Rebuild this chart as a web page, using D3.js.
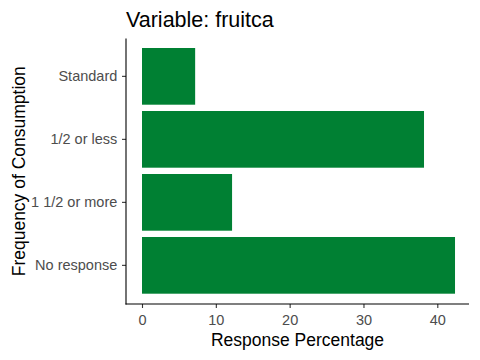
<!DOCTYPE html>
<html><head><meta charset="utf-8">
<script src="https://cdn.jsdelivr.net/npm/d3@7"></script>
<style>body{margin:0;background:#fff}svg{display:block}</style>
</head><body>
<svg id="c" width="480" height="360"></svg>
<script>
const categories = ["Standard", "1/2 or less", "1 1/2 or more", "No response"];
const values = [7.2, 38.2, 12.2, 42.4];
const xTicks = [0, 10, 20, 30, 40];

const svg = d3.select("#c");
const pLeft = 126, pRight = 469, pTop = 38.5, pBottom = 304;
const font = "'Liberation Sans', Arial, sans-serif";

const x = d3.scaleLinear().domain([0, 40]).range([142, 437.3]);
const y = d3.scaleBand().domain(categories).range([44.85, 296.85]).paddingInner(0.1).paddingOuter(0.05);

svg.selectAll("rect.bar").data(categories).enter().append("rect")
  .attr("class", "bar")
  .attr("x", x(0))
  .attr("y", d => y(d))
  .attr("width", (d, i) => x(values[i]) - x(0))
  .attr("height", y.bandwidth())
  .attr("fill", "#008033");

const xa = svg.append("g").attr("transform", `translate(0,${pBottom})`)
  .call(d3.axisBottom(x).tickValues(xTicks).tickSize(4).tickPadding(7).tickFormat(d3.format("d")));
xa.select(".domain").remove();
xa.selectAll("line").attr("stroke", "#333").attr("stroke-width", 1.1);
xa.selectAll("text").attr("fill", "#4d4d4d").style("font-family", font).style("font-size", "14.5px");

const ya = svg.append("g").attr("transform", `translate(${pLeft},0)`)
  .call(d3.axisLeft(y).tickSize(4).tickPadding(4.7));
ya.select(".domain").remove();
ya.selectAll("line").attr("stroke", "#333").attr("stroke-width", 1.1);
ya.selectAll("text").attr("fill", "#4d4d4d").style("font-family", font).style("font-size", "14.5px");

svg.append("line").attr("x1", pLeft).attr("x2", pLeft).attr("y1", pTop).attr("y2", pBottom + 0.5).attr("stroke", "#000").attr("stroke-width", 1.1);
svg.append("line").attr("x1", pLeft - 0.5).attr("x2", pRight).attr("y1", pBottom).attr("y2", pBottom).attr("stroke", "#000").attr("stroke-width", 1.1);

svg.append("text").attr("x", 126).attr("y", 27).text("Variable: fruitca")
  .style("font-family", font).style("font-size", "21.5px").attr("fill", "#000");
svg.append("text").attr("x", (pLeft + pRight) / 2).attr("y", 346).attr("text-anchor", "middle")
  .text("Response Percentage").style("font-family", font).style("font-size", "17.5px").attr("fill", "#000");
svg.append("text").attr("transform", `translate(25,${(pTop + pBottom) / 2}) rotate(-90)`).attr("text-anchor", "middle")
  .text("Frequency of Consumption").style("font-family", font).style("font-size", "17.5px").attr("fill", "#000");
</script>
</body></html>
